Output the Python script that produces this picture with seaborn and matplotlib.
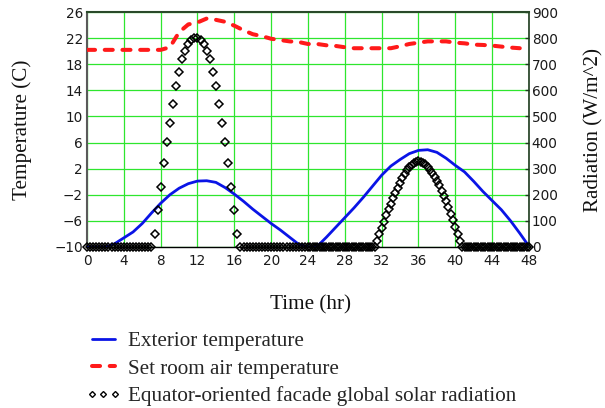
import numpy as np
import pandas as pd
import matplotlib
matplotlib.use("Agg")
import matplotlib.pyplot as plt
import seaborn as sns
from matplotlib.lines import Line2D

# ---------------- data ----------------
hours = list(range(49))
exterior_temp = [-10.0, -10.0, -10.0, -9.5, -8.6, -7.7, -6.4, -4.8, -3.3, -2.0,
                 -1.0, -0.3, 0.1, 0.15, -0.1, -0.9, -1.9, -3.0, -4.2, -5.3,
                 -6.4, -7.4, -8.5, -9.6, -10.0, -9.9, -8.5, -7.0, -5.5, -4.0,
                 -2.4, -0.7, 1.0, 2.4, 3.4, 4.3, 4.8, 4.9, 4.5, 3.6,
                 2.5, 1.5, 0.05, -1.5, -2.9, -4.3, -6.0, -7.9, -9.9]

room_hours = list(range(48))
room_temp = [20.2, 20.2, 20.2, 20.2, 20.2, 20.2, 20.2, 20.2, 20.2, 20.6,
             22.9, 24.1, 24.4, 25.0, 24.8, 24.5, 23.9, 23.2, 22.6, 22.3,
             21.9, 21.7, 21.5, 21.4, 21.1, 21.1, 20.9, 20.8, 20.6, 20.45,
             20.45, 20.45, 20.45, 20.45, 20.75, 21.1, 21.3, 21.5, 21.5, 21.5,
             21.3, 21.2, 21.0, 20.95, 20.85, 20.7, 20.55, 20.45]

# radiation, day 1 sampled every 1/3 h (0 .. 23.67 h)
rad_hours_day1 = np.arange(72) / 3.0
radiation_day1 = [0, 0, 0, 0, 0, 0, 0, 0, 0, 0, 0,
                  0, 0, 0, 0, 0, 0, 0, 0, 0, 0, 0,
                  49, 140, 231, 320, 401, 476, 548, 615, 671, 719, 752, 777, 793, 802,
                  802, 793, 777, 752, 719, 671, 615, 548, 476, 401, 320, 231, 140, 49,
                  0, 0, 0, 0, 0, 0, 0, 0, 0, 0, 0,
                  0, 0, 0, 0, 0, 0, 0, 0, 0, 0, 0]

# radiation, day 2 sampled every 1/4 h (24 .. 48 h)
rad_hours_day2 = 24 + np.arange(97) / 4.0
radiation_day2 = [0, 0, 0, 0, 0, 0, 0, 0, 0, 0, 0, 0, 0, 0, 0,
                  0, 0, 0, 0, 0, 0, 0, 0, 0, 0, 0, 0, 0, 0, 0,
                  22, 48, 72, 97, 122, 145, 166, 186, 206, 226, 246, 264, 280,
                  295, 306, 315, 321, 326, 328, 326, 322, 316, 306, 296, 284,
                  270, 254, 236, 216, 196, 175, 152, 128, 103, 77, 51, 24,
                  0, 0, 0, 0, 0, 0, 0, 0, 0, 0, 0, 0, 0, 0, 0,
                  0, 0, 0, 0, 0, 0, 0, 0, 0, 0, 0, 0, 0, 0, 0]

x_ticks = [0, 4, 8, 12, 16, 20, 24, 28, 32, 36, 40, 44, 48]
temp_ticks = [-10, -6, -2, 2, 6, 10, 14, 18, 22, 26]
rad_ticks = [0, 100, 200, 300, 400, 500, 600, 700, 800, 900]

labels = ["Exterior temperature", "Set room air temperature",
          "Equator-oriented facade global solar radiation"]

# ---------------- style ----------------
sns.set_style("white")
plt.rcParams["font.family"] = ["DejaVu Sans"]
SERIF = ["Liberation Serif", "DejaVu Serif"]

W, H = 605, 408
fig = plt.figure(figsize=(W / 100, H / 100), dpi=100)
L, R, T, B = 87, 529, 12, 247
ax = fig.add_axes([L / W, 1 - B / H, (R - L) / W, (B - T) / H])
ax2 = ax.twinx()

ext_df = pd.DataFrame({"t": hours, "temp": exterior_temp})
room_df = pd.DataFrame({"t": room_hours, "temp": room_temp})
rad_df = pd.DataFrame({"t": np.concatenate([rad_hours_day1, rad_hours_day2]),
                       "rad": radiation_day1 + radiation_day2})

sns.lineplot(data=ext_df, x="t", y="temp", ax=ax, color="#0a14e6",
             linewidth=2.0, zorder=3)
sns.lineplot(data=room_df, x="t", y="temp", ax=ax, color="#ff1a1a",
             linewidth=2.9, zorder=3)
red_line = ax.lines[-1]
red_line.set_dashes((2.0, 2.4))
red_line.set_dash_capstyle("round")

sns.lineplot(data=rad_df, x="t", y="rad", ax=ax2, linestyle="", marker="D",
             markersize=3.8, markerfacecolor="none", markeredgecolor="black",
             markeredgewidth=1.1, color="black", clip_on=False, zorder=4)

ax.set_xlim(0, 48)
ax.set_ylim(-10, 26)
ax2.set_ylim(0, 900)
ax.set_xticks(x_ticks)
ax.set_yticks(temp_ticks)
ax2.set_yticks(rad_ticks)

ax.grid(True, color="#2ee62e", linewidth=0.9)
ax2.grid(False)
ax.set_axisbelow(True)

for a in (ax, ax2):
    for s in a.spines.values():
        s.set_visible(True)
ax.spines["left"].set_color("#5a5a5a")
ax.spines["left"].set_linewidth(1.5)
ax.spines["bottom"].set_color("black")
ax.spines["bottom"].set_linewidth(1.0)
ax2.spines["top"].set_color("#2a4a2a")
ax2.spines["top"].set_linewidth(1.5)
ax2.spines["right"].set_color("#1e3a1e")
ax2.spines["right"].set_linewidth(1.2)
ax2.spines["left"].set_visible(False)
ax2.spines["bottom"].set_visible(False)
ax.spines["top"].set_visible(False)
ax.spines["right"].set_visible(False)

ax.tick_params(axis="x", length=0, pad=5, labelsize=9.8, colors="#1a1a1a")
ax.tick_params(axis="y", length=0, pad=3, labelsize=9.8, colors="#1a1a1a")
ax2.tick_params(axis="y", direction="in", length=3, width=1, color="#1e3a1e",
                pad=2, labelsize=9.8, labelcolor="#1a1a1a")

ax.set_xlabel("Time (hr)", family=SERIF, fontsize=15.2, color="#111111")
ax.xaxis.set_label_coords((311 - L) / (R - L), -(305 - B) / (B - T))
ax.xaxis.label.set_va("center")

ax.set_ylabel("Temperature (C)", family=SERIF, fontsize=15.2, color="#111111")
ax.yaxis.set_label_coords((22 - L) / (R - L), 0.5)
ax.yaxis.label.set_va("center")

ax2.set_ylabel("Radiation (W/m^2)", family=SERIF, fontsize=15.2, color="#111111",
               rotation=90)
ax2.yaxis.set_label_coords((594 - L) / (R - L), 0.5)
ax2.yaxis.label.set_va("center")
ax2.yaxis.label.set_ha("center")

handles = [
    Line2D([], [], color="#0a14e6", linewidth=2.0),
    Line2D([], [], color="#ff1a1a", linewidth=2.9, dashes=(2.0, 2.4),
           dash_capstyle="round"),
    Line2D([], [], linestyle="", marker="D", markersize=3.0,
           markerfacecolor="none", markeredgecolor="black", markeredgewidth=1.0),
]
fig.legend(handles, labels, loc="center left",
           bbox_to_anchor=(86 / W, 1 - 369 / H), frameon=False,
           prop={"family": SERIF, "size": 15.2}, handlelength=1.65,
           handletextpad=0.36, labelspacing=0.36, borderpad=0,
           borderaxespad=0, numpoints=3)

fig.savefig("out.png", dpi=100)
